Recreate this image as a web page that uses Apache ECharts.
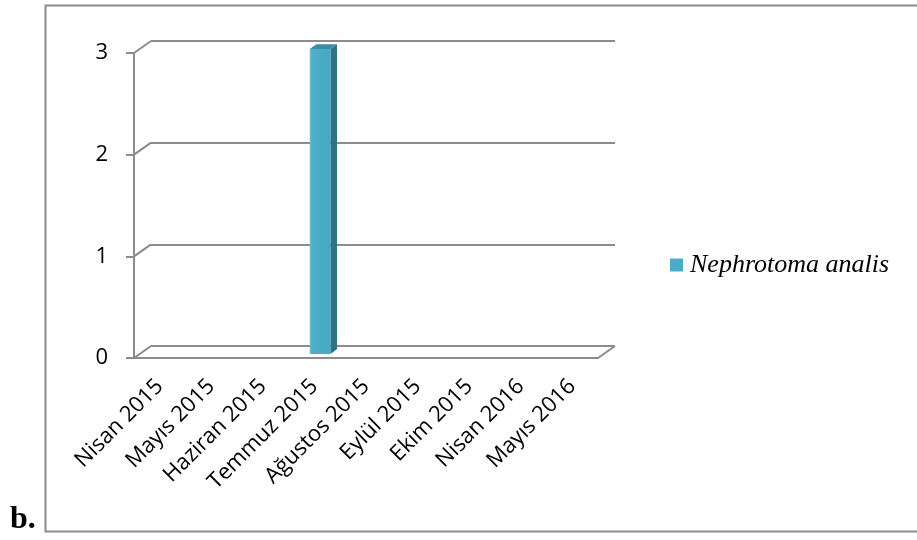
<!DOCTYPE html>
<html>
<head>
<meta charset="utf-8">
<script src="https://cdn.jsdelivr.net/npm/echarts@6/dist/echarts.min.js"></script>
<style>
html,body{margin:0;padding:0;background:#fff;}
#chart{width:917px;height:540px;}
</style>
</head>
<body>
<div id="chart"></div>
<script>
const categories = ['Nisan 2015','Mayıs 2015','Haziran 2015','Temmuz 2015','Ağustos 2015','Eylül 2015','Ekim 2015','Nisan 2016','Mayıs 2016'];
const seriesName = 'Nephrotoma analis';
const values = [0,0,0,3,0,0,0,0,0];
const yTicks = [0,1,2,3];
const panelLabel = 'b.';

const DX = 17, DY = -12;
const GRAY = '#8c8c8c';

const chart = echarts.init(document.getElementById('chart'), null, {renderer:'canvas'});

function frameItem(params, api){
  const v = api.value(1);
  const p = api.coord([0, v]);
  const cs = params.coordSys;
  const y = p[1];
  const children = [{
    type:'line',
    shape:{x1:cs.x, y1:y, x2:cs.x+DX, y2:y+DY},
    style:{stroke:GRAY, lineWidth:2}
  }];
  if (v === yTicks[0]) {
    children.push({
      type:'line',
      shape:{x1:cs.x+cs.width, y1:y, x2:cs.x+cs.width+DX, y2:y+DY},
      style:{stroke:GRAY, lineWidth:2}
    });
  }
  return {type:'group', children};
}

function barItem(params, api){
  const i = api.value(0), v = api.value(1);
  if (!(v > 0)) return null;
  const base = api.coord([i, 0]);
  const top = api.coord([i, v]);
  const band = api.size([1, 0])[0];
  const w = band * 0.4;
  const f1 = 0.33, dd = 0.39;
  const xl = base[0] - w/2 + DX*f1;
  const xr = xl + w;
  const yb = base[1] + DY*f1;
  const yt = top[1] + DY*f1;
  const ox = DX*dd, oy = DY*dd;
  return {type:'group', children:[
    {type:'polygon', shape:{points:[[xr,yt],[xr+ox,yt+oy],[xr+ox,yb+oy],[xr,yb]]},
     style:{fill:'#2f7384'}},
    {type:'polygon', shape:{points:[[xl,yt],[xl+ox,yt+oy],[xr+ox,yt+oy],[xr,yt]]},
     style:{fill:'#3a8ea2'}},
    {type:'rect', shape:{x:xl, y:yt, width:w, height:yb-yt},
     style:{fill:new echarts.graphic.LinearGradient(0,0,1,0,[
       {offset:0,color:'#6cc0d5'},{offset:0.12,color:'#4daec7'},{offset:1,color:'#47a9c2'}])}}
  ]};
}

const option = {
  animation:false,
  backgroundColor:'#fff',
  color:['#4BACC6'],
  grid:[
    {left:134, top:53, width:464, height:305},
    {left:134+DX, top:53+DY, width:464, height:305}
  ],
  xAxis:[
    {gridIndex:0, type:'category', data:categories,
     axisLine:{lineStyle:{color:GRAY, width:2}},
     axisTick:{length:6, lineStyle:{color:GRAY, width:2}},
     axisLabel:{rotate:45, interval:0, fontSize:22, color:'#000', fontFamily:'Open Sans', margin:25},
     splitLine:{show:false}},
    {gridIndex:1, type:'category', data:categories, show:false}
  ],
  yAxis:[
    {gridIndex:0, type:'value', min:0, max:3, interval:1,
     axisLine:{show:true, lineStyle:{color:GRAY, width:2}},
     axisTick:{show:true, length:8, lineStyle:{color:GRAY, width:2}},
     axisLabel:{fontSize:22, color:'#000', fontFamily:'Open Sans', margin:26},
     splitLine:{show:false}},
    {gridIndex:1, type:'value', min:0, max:3, interval:1,
     axisLine:{show:false}, axisTick:{show:false}, axisLabel:{show:false},
     splitLine:{show:true, lineStyle:{color:GRAY, width:2}}}
  ],
  legend:{
    data:[{name:seriesName, icon:'rect'}],
    left:670, top:252, orient:'vertical', padding:0,
    itemWidth:13, itemHeight:13,
    textStyle:{fontFamily:'Liberation Serif', fontStyle:'italic', fontSize:26, color:'#000', padding:[0,0,0,2]}
  },
  series:[
    {name:'frame', type:'custom', xAxisIndex:0, yAxisIndex:0, silent:true, z:1,
     data:yTicks.map(v=>[0,v]), renderItem:frameItem},
    {name:seriesName, type:'custom', xAxisIndex:0, yAxisIndex:0, z:5,
     itemStyle:{color:'#4BACC6'},
     data:values.map((v,i)=>[i,v]), renderItem:barItem}
  ],
  graphic:[
    {type:'rect', left:43, top:3, shape:{width:900, height:526},
     style:{fill:'none', stroke:GRAY, lineWidth:2}, silent:true},
    {type:'text', left:10, top:504,
     style:{text:panelLabel, font:'bold 32px "Liberation Serif"', fill:'#000'}}
  ]
};
chart.setOption(option);
</script>
</body>
</html>
